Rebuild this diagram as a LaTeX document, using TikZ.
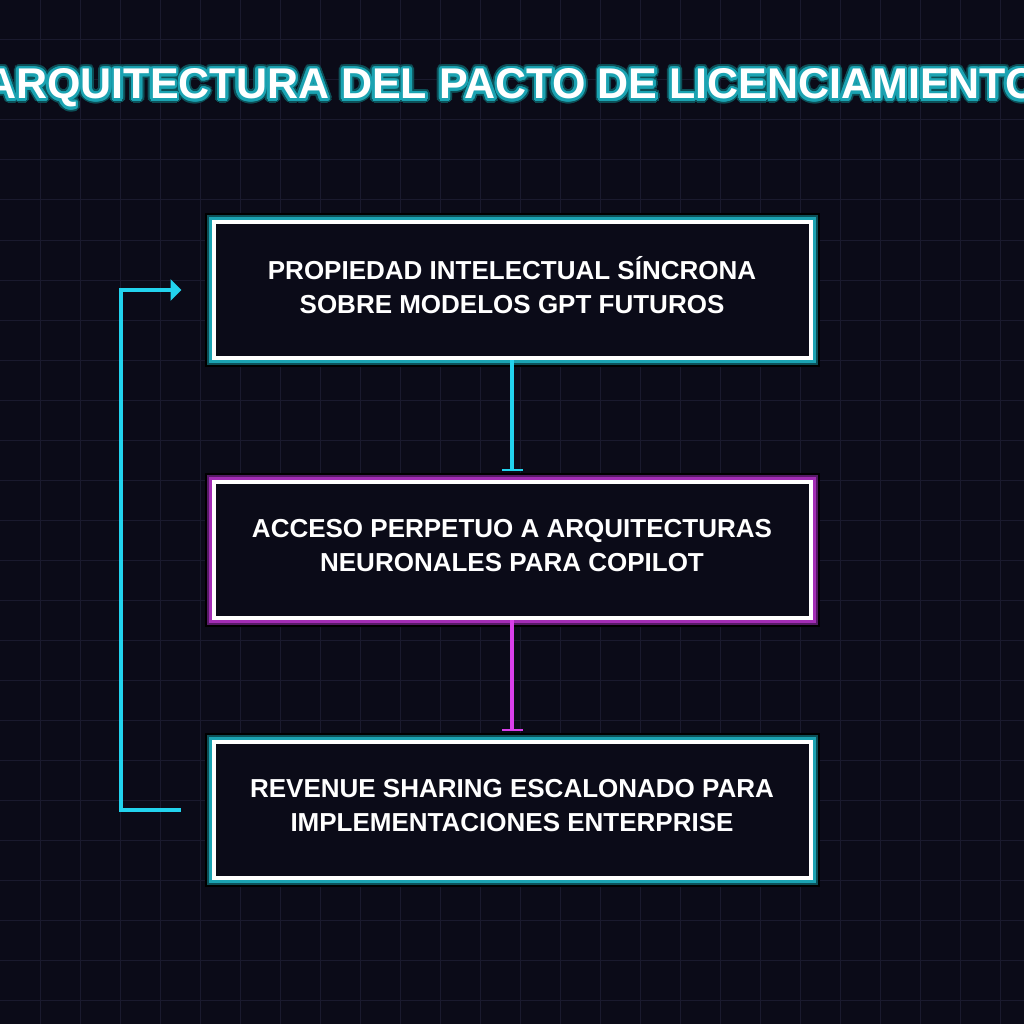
\documentclass[tikz,border=0pt]{standalone}
\usepackage{fontspec}
\setmainfont{Liberation Sans}
\usetikzlibrary{arrows.meta, positioning}

\definecolor{bgdark}{HTML}{0B0B18}
\definecolor{gridline}{HTML}{1A1A2E}
\definecolor{glowteal}{HTML}{1BA3B2}
\definecolor{glowtealdark}{HTML}{0C5058}
\definecolor{glowmag}{HTML}{A32DB5}
\definecolor{glowmagdark}{HTML}{561A66}
\definecolor{flowcyan}{HTML}{22D3EE}
\definecolor{flowmag}{HTML}{D93FEA}

\newcommand{\titletxt}{ARQUITECTURA DEL PACTO DE LICENCIAMIENTO}

\tikzset{
  titletext/.style={font=\fontsize{43}{50}\selectfont\bfseries, inner sep=0pt},
  stagebox/.style={rectangle, draw=white, line width=4pt, fill=bgdark,
    minimum width=597pt, minimum height=136pt, inner sep=0pt},
  stagetext/.style={align=center, text=white, inner sep=0pt,
    font=\fontsize{26}{34}\selectfont\bfseries},
  tealglow/.style={preaction={draw=black, line width=18pt},
    preaction={draw=glowtealdark, line width=14pt},
    preaction={draw=glowteal, line width=10pt}},
  magglow/.style={preaction={draw=black, line width=18pt},
    preaction={draw=glowmagdark, line width=14pt},
    preaction={draw=glowmag, line width=10pt}},
  flowline/.style={line width=4pt, shorten >=9pt,
    -{Bar[width=21pt, line width=2pt]}},
}

\begin{document}
\begin{tikzpicture}[x=1pt,y=-1pt]
\useasboundingbox (0,0) rectangle (1024,1024);
\clip (0,0) rectangle (1024,1024);
\fill[bgdark] (0,0) rectangle (1024,1024);
% background grid
\foreach \g in {40,80,...,1000} {
  \draw[gridline, line width=1pt] (\g,0) -- (\g,1024);
  \draw[gridline, line width=1pt] (0,\g) -- (1024,\g);
}

% title with glow
\coordinate (titlepos) at (512,88);
\foreach \a in {0,20,...,340}
  \node[titletext, text=glowtealdark] (tglowo\a) at ([shift={(\a:4.5)}]titlepos) {\titletxt};
\foreach \a in {0,20,...,340}
  \node[titletext, text=glowteal] (tglowi\a) at ([shift={(\a:2.6)}]titlepos) {\titletxt};
\node[titletext, text=white] (title) at (titlepos) {\titletxt};

% stages
\node[stagebox, tealglow] (ipbox) at (512,290) {};
\node[stagebox, magglow, below=120pt of ipbox] (accessbox) {};
\node[stagebox, tealglow, below=120pt of accessbox] (revbox) {};

\node[stagetext] (iptext) at ([yshift=4.5pt]ipbox.center)
  {PROPIEDAD INTELECTUAL SÍNCRONA\\SOBRE MODELOS GPT FUTUROS};
\node[stagetext] (accesstext) at ([yshift=4.5pt]accessbox.center)
  {ACCESO PERPETUO A ARQUITECTURAS\\NEURONALES PARA COPILOT};
\node[stagetext] (revtext) at ([yshift=4.5pt]revbox.center)
  {REVENUE SHARING ESCALONADO PARA\\IMPLEMENTACIONES ENTERPRISE};

% connectors
\draw[flowline, flowcyan] (ipbox.south) -- (accessbox.north);
\draw[flowline, flowmag] (accessbox.south) -- (revbox.north);

% feedback loop
\coordinate (loopstart) at ([xshift=-31pt]revbox.west);
\coordinate (loopend) at ([xshift=-30pt]ipbox.west);
\draw[flowcyan, line width=4pt, -{Triangle[length=11pt, width=21pt]}]
  (loopstart) -- ++(-60pt,0) |- (loopend);
\end{tikzpicture}
\end{document}
